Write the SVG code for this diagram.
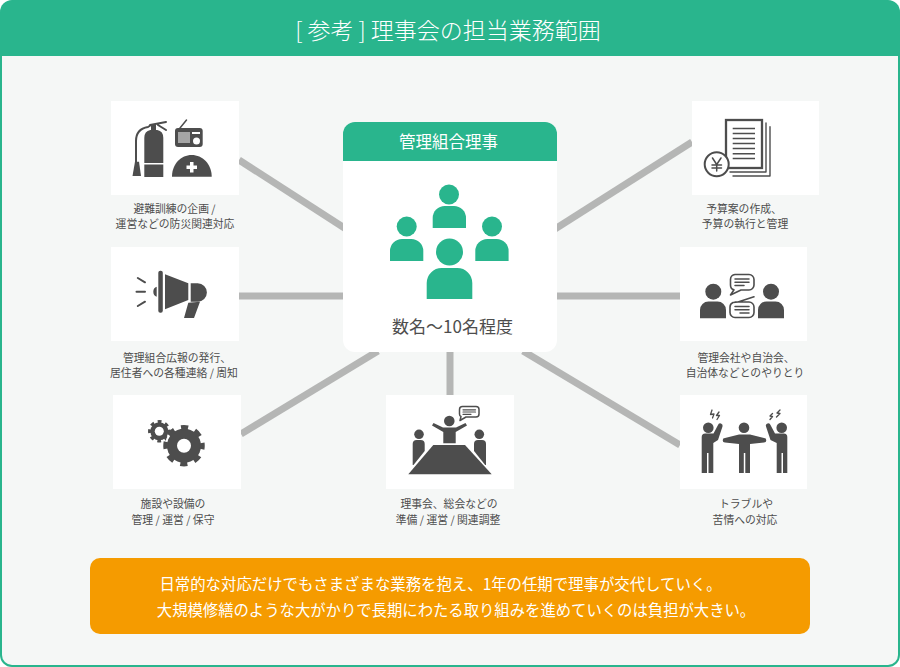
<svg xmlns="http://www.w3.org/2000/svg" width="900" height="667" viewBox="0 0 900 667">
<style>
text{font-family:"Noto Sans CJK JP","Noto Sans",sans-serif;text-anchor:middle}
.l{font-size:10.8px;fill:#4d4d4d}
.w{fill:#fff}
.card{fill:#fff}
.i{fill:#4d4d4d}
.s{fill:none;stroke:#4d4d4d;stroke-linecap:round;stroke-linejoin:round}
.g{fill:#29b58d}
.c{stroke:#b5b6b5;stroke-width:7;fill:none}
</style>
<rect width="900" height="667" rx="12" fill="#29b58d"/>
<path d="M2 56H898V655a10 10 0 0 1-10 10H12a10 10 0 0 1-10-10Z" fill="#f5f7f6"/>
<text id="title" class="w" x="448" y="39" font-size="23" font-weight="300">[ 参考 ] 理事会の担当業務範囲</text>
<g id="connectors" class="c">
<path d="M239 160L346 229"/>
<path d="M239 296H346"/>
<path d="M241 434L378 351"/>
<path d="M450 350V395"/>
<path d="M555 229L692 142"/>
<path d="M555 296H680"/>
<path d="M523 351L680 445"/>
</g>
<g id="center">
<rect x="343" y="122" width="214" height="230" rx="12" fill="#fff"/>
<path class="g" d="M343 161V134a12 12 0 0 1 12-12H545a12 12 0 0 1 12 12V161Z"/>
<text class="w" x="448.500" y="148" font-size="16.500">管理組合理事</text>
<g class="g">
<circle cx="449" cy="194.500" r="10"/><path d="M432.700 228V218a12 12 0 0 1 12-12h9.300a12 12 0 0 1 12 12V228Z"/>
<circle cx="406.700" cy="226.500" r="10"/><path d="M390 261V251a12 12 0 0 1 12-12h9.300a12 12 0 0 1 12 12V261Z"/>
<circle cx="492" cy="226.500" r="10"/><path d="M475.300 261V251a12 12 0 0 1 12-12h9.300a12 12 0 0 1 12 12V261Z"/>
<circle cx="449.500" cy="252" r="13.500"/><path d="M426.700 299V283a15 15 0 0 1 15-15h15.600a15 15 0 0 1 15 15V299Z"/>
</g>
<text x="452.500" y="332.500" font-size="17" fill="#4d4d4d">数名～10名程度</text>
</g>
<g id="n1">
<rect class="card" x="111" y="101" width="128" height="94"/>
<path class="i" d="M144.300 177V138q0-7 6-8h7q6 1 6 8V177Z"/>
<path class="card" d="M144 163h20v1.500h-20Z"/>
<path class="s" stroke-width="2" d="M151 125L148 127q-12 2-12 14V162M150 125L166 122M158 125L166 130"/>
<rect class="i" x="151" y="124" width="5" height="7"/>
<path class="i" d="M135 161.700h4l2 14.300h-8.500Z"/>
<rect class="i" x="175" y="128" width="27.700" height="19" rx="3"/>
<path class="s" stroke-width="1.500" d="M180 128L186.500 120"/>
<path class="card" d="M178.500 132h1v11h-1ZM180.500 132h1v11h-1ZM182.500 132h1v11h-1ZM184.500 132h1v11h-1ZM186.500 132h1v11h-1ZM188.500 132h1v11h-1Z"/>
<circle class="card" cx="196.500" cy="141" r="3.500"/>
<rect class="card" x="192" y="132" width="8" height="2"/>
<path class="i" d="M172 176.700C172 164 181 155 191.700 155S211.700 164 211.700 176.700Z"/>
<path class="card" d="M190 162h3.500v3.500H197v3.500h-3.500v3.500H190V169h-3.500v-3.500H190Z"/>
<text class="l" x="174.500" y="213">避難訓練の企画 /</text>
<text class="l" x="175" y="228">運営などの防災関連対応</text>
</g>
<g id="n2">
<rect class="card" x="111" y="247" width="128" height="94"/>
<rect class="i" x="158.300" y="270.700" width="4.500" height="42" rx="2"/>
<path class="i" d="M156.700 286.700v10q-3.400-1-3.400-5t3.400-5ZM165 274.300L188.300 283.300V300L165 309.300ZM190.700 283.300h7a9 9 0 0 1 0 18.400h-7ZM188.300 302.700L200 301.700L194 318H184Z"/>
<path class="s" stroke-width="2" d="M137.800 278L145 282.300M136.500 291.700H145M137.800 306L145 301.700"/>
<text class="l" x="177" y="362">管理組合広報の発行、</text>
<text class="l" x="174" y="377">居住者への各種連絡 / 周知</text>
</g>
<g id="n3">
<rect class="card" x="113" y="395" width="128" height="94"/>
<circle class="i" cx="159.300" cy="431.300" r="9"/>
<circle cx="159.300" cy="431.300" r="9.500" fill="none" stroke="#4d4d4d" stroke-width="3.500" stroke-dasharray="3.730 3.730" stroke-dashoffset="1.865"/>
<circle class="card" cx="159.300" cy="431.300" r="4.500"/>
<circle cx="184" cy="445.700" r="19" fill="#fff"/>
<circle class="i" cx="184" cy="445.700" r="17"/>
<circle cx="184" cy="445.700" r="18" fill="none" stroke="#4d4d4d" stroke-width="5.500" stroke-dasharray="7.070 7.070" stroke-dashoffset="3.535"/>
<circle class="card" cx="184" cy="445.700" r="7"/>
<text class="l" x="173" y="508">施設や設備の</text>
<text class="l" x="173" y="523.500">管理 / 運営 / 保守</text>
</g>
<g id="n4">
<rect class="card" x="386" y="395" width="128" height="94"/>
<path class="i" d="M433.300 445H465L491.700 474.300H408.300Z"/>
<circle class="i" cx="449.300" cy="421" r="5.300"/>
<path class="i" d="M443.300 443.300V432L432 425.500l1.500-2.500L443 427.500h13l9.500-4.500 1.500 2.500L455.700 432V443.300Z"/>
<circle class="i" cx="419" cy="434.300" r="4.800"/>
<path class="i" d="M412.700 465V444a4 4 0 0 1 4-4h4a4 4 0 0 1 4 4V451L413.500 465Z"/>
<circle class="i" cx="479.300" cy="434.300" r="4.800"/>
<path class="i" d="M486 465V444a4 4 0 0 0-4-4h-4a4 4 0 0 0-4 4V451L485.200 465Z"/>
<path class="s" stroke-width="1.500" d="M462.500 406.500H476a3 3 0 0 1 3 3V414a3 3 0 0 1-3 3H466L460 420.500L461 416.500Q459.500 416 459.500 414V409.500a3 3 0 0 1 3-3Z"/>
<path class="s" stroke-width="1.200" d="M463 409.800H475.500M463 412H475.500M463 414.300H471"/>
<text class="l" x="449" y="508">理事会、総会などの</text>
<text class="l" x="448" y="523.500">準備 / 運営 / 関連調整</text>
</g>
<g id="n5">
<rect class="card" x="692" y="101" width="127" height="94"/>
<path class="s" stroke-width="1.400" d="M766 123V172H730M770 126.700V176H733"/>
<rect x="726" y="120" width="36" height="48" fill="#fff" stroke="#4d4d4d" stroke-width="2.300"/>
<path class="i" d="M732.700 127.700H755v1.500H732.700ZM732.700 132.700H755v1.500H732.700ZM732.700 137.700H755v1.500H732.700ZM732.700 142.700H755v1.500H732.700ZM732.700 147.700H755v1.500H732.700ZM732.700 153H755v1.500H732.700ZM732.700 157.700H755v1.500H732.700Z"/>
<circle cx="716.700" cy="164.300" r="12" fill="#fff" stroke="#4d4d4d" stroke-width="2"/>
<path class="s" stroke-width="1.500" d="M712.500 158L716.700 164.500L721 158M716.700 164.500V171M712 165H721.500M712 168H721.500"/>
<text class="l" x="744" y="213">予算案の作成、</text>
<text class="l" x="745" y="228">予算の執行と管理</text>
</g>
<g id="n6">
<rect class="card" x="680" y="247" width="127" height="94"/>
<circle class="i" cx="713.300" cy="291.700" r="8"/>
<path class="i" d="M700 318.300V310a8.500 8.500 0 0 1 8.500-8.500h9a8.500 8.500 0 0 1 8.500 8.500V318.300Z"/>
<circle class="i" cx="771" cy="291.700" r="8"/>
<path class="i" d="M758 318.300V310a8.500 8.500 0 0 1 8.500-8.500h9a8.500 8.500 0 0 1 8.500 8.500V318.300Z"/>
<path class="s" stroke-width="1.600" d="M735 274.500H749a5 5 0 0 1 5 5V285a5 5 0 0 1-5 5H741L730.500 295L734 289.800Q730.500 289 730.500 285V279.500a5 5 0 0 1 4.500-5Z"/>
<path class="s" stroke-width="1.600" d="M735 302H749a5 5 0 0 1 5 5V312.500a5 5 0 0 1-5 5H735a5 5 0 0 1-5-5V307a5 5 0 0 1 3-4.500L738 302L754 296.700"/>
<path class="s" stroke-width="1.500" d="M735 279H749M735 282.300H749M735 285.500H744M735 306.500H749M735 309.700H749M740 313H749"/>
<text class="l" x="746" y="362">管理会社や自治会、</text>
<text class="l" x="745" y="377">自治体などとのやりとり</text>
</g>
<g id="n7">
<rect class="card" x="680" y="395" width="127" height="94"/>
<circle class="i" cx="708.300" cy="427.700" r="5.300"/>
<path class="i" d="M701.700 473V437a3.500 3.500 0 0 1 3.500-3.500H713.500L718 425a2 2 0 0 1 4.500 1.500L718 440L713.300 443V473H708.500V453H707V473Z"/>
<circle class="i" cx="744" cy="427.700" r="5.300"/>
<path class="i" d="M739 473V444L725 442.500a2.300 2.300 0 0 1 0-4.600L739 434.500h11L764 437.900a2.300 2.300 0 0 1 0 4.600L750 444V473H745.300V453H743.800V473Z"/>
<circle class="i" cx="781.700" cy="427.700" r="5.300"/>
<path class="i" d="M787.300 473V437a3.500 3.500 0 0 0-3.500-3.500H775L770.500 425a2 2 0 0 0-4.500 1.500L770.500 440L776.700 443V473H781.500V453H783V473Z"/>
<path class="s" stroke-width="1.300" d="M712 410L710.500 414.500L714 414L712.500 418M719 412L716.500 415.500L719.500 415.500L717 419.500M780 410L777 413L780 413.500L776.500 417M772.500 413.500L770 416L772.500 416.500L770 419.500"/>
<text class="l" x="746" y="508">トラブルや</text>
<text class="l" x="745" y="523.500">苦情への対応</text>
</g>
<g id="note">
<rect x="90" y="558" width="720" height="76" rx="10" fill="#f59b00"/>
<text class="w" x="440.500" y="590" font-size="15.400">日常的な対応だけでもさまざまな業務を抱え、1年の任期で理事が交代していく。</text>
<text class="w" x="456" y="616" font-size="15.350">大規模修繕のような大がかりで長期にわたる取り組みを進めていくのは負担が大きい。</text>
</g>
</svg>
